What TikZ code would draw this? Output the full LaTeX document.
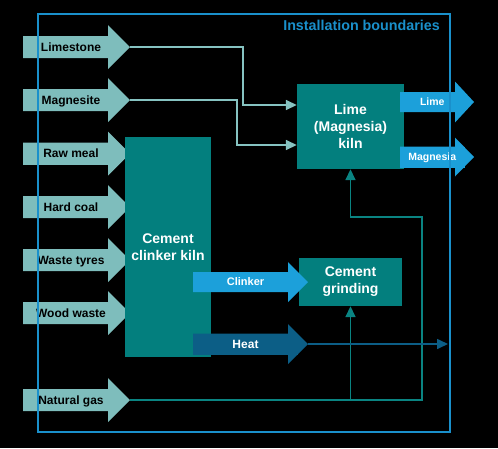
\documentclass[tikz,border=0pt]{standalone}
\usepackage{fontspec}
\setmainfont{Liberation Sans}
\usetikzlibrary{arrows.meta}
\definecolor{incol}{HTML}{7EBDBC}
\definecolor{boxcol}{HTML}{037F7E}
\definecolor{outcol}{HTML}{1CA0DA}
\definecolor{heatcol}{HTML}{0C5E86}
\definecolor{bndcol}{HTML}{1A90CB}
\definecolor{gascol}{HTML}{0A8482}
\definecolor{feedcol}{HTML}{86C3C1}
\tikzset{
  inarrow/.style={fill=incol, text=black, font=\bfseries\fontsize{12}{14}\selectfont, text height=8.6pt, text depth=0pt},
  outarrow/.style={fill=outcol, text=white, font=\bfseries\fontsize{10.5}{12}\selectfont, text height=7.5pt, text depth=0pt},
  clinkarrow/.style={fill=outcol, text=white, font=\bfseries\fontsize{11}{13}\selectfont, text height=7.9pt, text depth=0pt},
  heatarrow/.style={fill=heatcol, text=white, font=\bfseries\fontsize{12}{14}\selectfont, text height=8.6pt, text depth=0pt},
  unit/.style={fill=boxcol, text=white, align=center, inner sep=0pt, font=\bfseries\fontsize{14}{17}\selectfont},
  tipstyle/.style={-{Triangle[length=11pt,width=10pt]}},
  feedline/.style={draw=feedcol, line width=1.6pt, tipstyle},
  gasline/.style={draw=gascol, line width=1.6pt},
  heatline/.style={draw=heatcol, line width=1.6pt, tipstyle},
  boundary/.style={draw=bndcol, line width=2pt, inner sep=0pt},
  bndtext/.style={text=bndcol, inner sep=0pt, font=\bfseries\fontsize{14.3}{16}\selectfont}
}
% #1 name, #2 style, #3 x left, #4 x body end, #5 x tip, #6 y centre, #7 body half height, #8 head half height, #9 text
\newcommand{\flowarrow}[9]{%
  \path[#2] (#3,#6-#7) -- (#4,#6-#7) -- (#4,#6-#8) -- (#5,#6) -- (#4,#6+#8) -- (#4,#6+#7) -- (#3,#6+#7) -- cycle;
  \node[#2, inner sep=0pt, minimum width={#4+(#5-#4)/2-#3}, minimum height={2*#7}] (#1) at ({(#3+#4+(#5-#4)/2)/2},#6) {#9};
  \coordinate (#1-tip) at (#5,#6);
}
\begin{document}
\begin{tikzpicture}[x=1pt,y=-1pt]
\useasboundingbox (0,0) rectangle (498,448);
\fill[black] (0,0) rectangle (498,448);

% inputs
\flowarrow{limestone}{inarrow}{23}{108}{130}{47}{11}{22}{Limestone}
\flowarrow{magnesite}{inarrow}{23}{108}{130}{100}{11}{22}{Magnesite}
\flowarrow{rawmeal}{inarrow}{23}{108}{130}{153.5}{11}{22}{Raw meal}
\flowarrow{hardcoal}{inarrow}{23}{108}{130}{207}{11}{22}{Hard coal}
\flowarrow{tyres}{inarrow}{23}{108}{130}{260}{11}{22}{Waste tyres}
\flowarrow{wood}{inarrow}{23}{108}{130}{313}{11}{22}{Wood waste}
\flowarrow{natgas}{inarrow}{23}{108}{130}{400}{11}{22}{Natural gas}

% process units
\node[unit, minimum width=86pt, minimum height=220pt] (kiln) at (168,247) {Cement\\clinker kiln};
\node[unit, minimum width=107pt, minimum height=85pt] (lime) at (350.5,126.5) {Lime\\(Magnesia)\\kiln};
\node[unit, minimum width=103pt, minimum height=48pt] (grind) at (350.5,282) {Cement\\grinding};

% outputs
\flowarrow{clinker}{clinkarrow}{193}{288}{308}{282}{10}{20}{Clinker}
\flowarrow{heat}{heatarrow}{193}{288}{308}{344}{10.5}{20}{Heat}
\flowarrow{limeout}{outarrow}{400}{455}{474}{102}{10}{20.5}{Lime}
\flowarrow{magout}{outarrow}{400}{455}{474}{157}{10.5}{19.5}{Magnesia}

% connectors
\draw[feedline] (limestone-tip) -| (243,105) -- (lime.west |- 243,105);
\draw[feedline] (magnesite-tip) -| (237,145) -- (lime.west |- 237,145);
\draw[gasline, tipstyle] (natgas-tip) -| (422,217) -| (lime.south);
\draw[gasline, tipstyle] (grind.south |- natgas-tip) -- (grind.south);
\coordinate (heatout) at (448,344);
\draw[heatline] (heat-tip) -- (heatout);

% installation boundary
\node[boundary, minimum width=412pt, minimum height=418pt] (bnd) at (244,223) {};
\node[bndtext, anchor=east] (bndlabel) at (440,25) {Installation boundaries};
\end{tikzpicture}
\end{document}
